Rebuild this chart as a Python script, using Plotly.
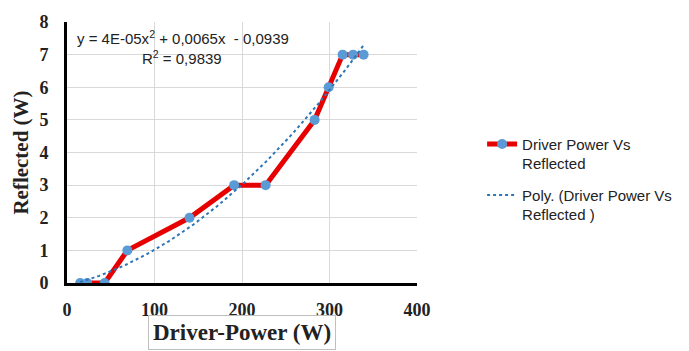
import numpy as np
import plotly.graph_objects as go

driver_power = [15, 23, 43, 69, 140, 191, 227, 283, 299, 315, 327, 339]
reflected = [0, 0, 0, 1, 2, 3, 3, 5, 6, 7, 7, 7]
x_ticks = [0, 100, 200, 300, 400]
y_ticks = [0, 1, 2, 3, 4, 5, 6, 7, 8]
series_name = "Driver Power Vs<br>Reflected"
trend_name = "Poly. (Driver Power Vs<br>Reflected )"
equation_text = "y = 4E-05x<sup>2</sup> + 0,0065x  - 0,0939"
r2_text = "R<sup>2</sup> = 0,9839"

coef = np.polyfit(driver_power, reflected, 2)
xt = np.linspace(min(driver_power), max(driver_power), 120)
yt = np.polyval(coef, xt)

fig = go.Figure()
fig.add_trace(go.Scatter(
    x=driver_power, y=reflected, mode="lines+markers", name=series_name,
    legendgroup="a",
    line=dict(color="#e60000", width=5),
    marker=dict(color="#5b9bd5", size=10),
))
fig.add_trace(go.Scatter(
    x=xt, y=yt, mode="lines", name=trend_name, legendgroup="b",
    line=dict(color="#2e75b6", width=2, dash="dot"),
))

serif = "Liberation Serif"
sans = "Liberation Sans"
fig.update_layout(
    width=689, height=351,
    margin=dict(l=67, r=272, t=12, b=68),
    plot_bgcolor="white", paper_bgcolor="white",
    showlegend=True,
    legend=dict(x=1.186, y=0.595, xanchor="left", yanchor="top",
                font=dict(family=sans, size=15, color="#222"),
                valign="top", tracegroupgap=9, bgcolor="rgba(0,0,0,0)"),
    xaxis=dict(range=[0, 400], tickvals=x_ticks, showgrid=True, gridcolor="#d9d9d9",
               gridwidth=1, zeroline=False, showline=True, linecolor="black", linewidth=3,
               ticks="", tickfont=dict(family=serif, size=18, color="#222", weight="bold"),
               ticklabelstandoff=8),
    yaxis=dict(range=[0, 8], tickvals=y_ticks, showgrid=True, gridcolor="#d9d9d9",
               gridwidth=1, zeroline=False, showline=True, linecolor="black", linewidth=3,
               ticks="", tickfont=dict(family=serif, size=18, color="#222", weight="bold"),
               ticklabelstandoff=12),
)
fig.add_annotation(text="<b>Driver-Power (W)</b>", xref="paper", yref="paper",
                   x=0.5, y=-0.188, xanchor="center", yanchor="middle", showarrow=False,
                   font=dict(family=serif, size=23, color="#222"),
                   bordercolor="#bfbfbf", borderwidth=1, borderpad=4)
fig.add_annotation(text="<b>Reflected (W)</b>", xref="paper", yref="paper",
                   x=-0.134, y=0.5, xanchor="center", yanchor="middle", textangle=-90,
                   showarrow=False, font=dict(family=serif, size=21, color="#222"))
fig.add_annotation(text=equation_text, xref="paper", yref="paper",
                   x=0.023, y=0.94, xanchor="left", yanchor="middle", showarrow=False,
                   font=dict(family=sans, size=15, color="#222"))
fig.add_annotation(text=r2_text, xref="paper", yref="paper",
                   x=0.329, y=0.865, xanchor="center", yanchor="middle", showarrow=False,
                   font=dict(family=sans, size=15, color="#222"))

fig.write_html("out.html", config={"displayModeBar": False},
               post_script="document.body.style.margin='0';document.body.style.overflow='hidden';")
